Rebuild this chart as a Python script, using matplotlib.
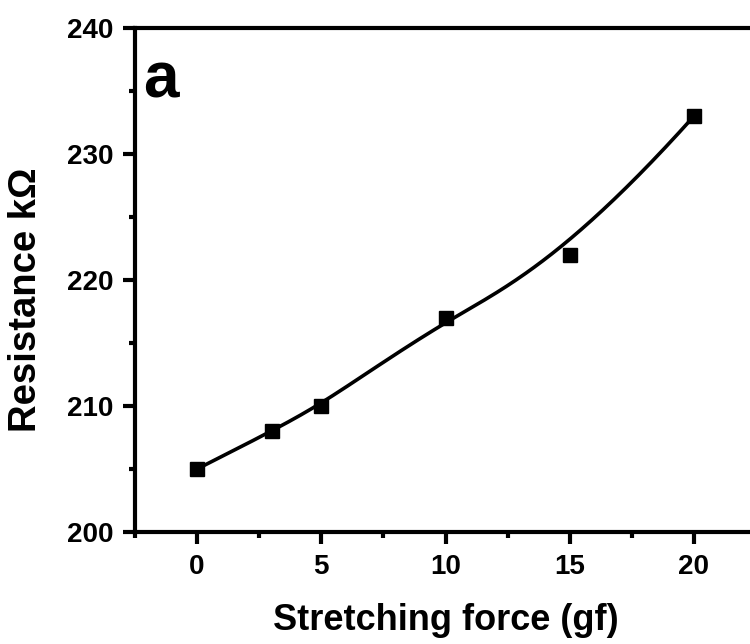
import numpy as np
import matplotlib
matplotlib.use("Agg")
import matplotlib.pyplot as plt
from matplotlib.ticker import MultipleLocator

force = [0, 3, 5, 10, 15, 20]
resistance = [205, 208, 210, 217, 222, 233]

plt.rcParams['font.family'] = ['Liberation Sans', 'DejaVu Sans']
plt.rcParams['font.weight'] = 'bold'


def bspline(px, py, degree=3, n=300):
    # clamped uniform B-spline using data points as control points
    ctrl = np.column_stack([px, py]).astype(float)
    m = len(ctrl)
    k = degree
    inner = np.arange(1, m - k)
    knots = np.concatenate([np.zeros(k + 1), inner, np.full(k + 1, m - k)]).astype(float)
    ts = np.linspace(0, m - k, n)
    out = []
    for t in ts:
        N = np.zeros(len(knots) - 1)
        for i in range(len(knots) - 1):
            if knots[i] <= t < knots[i + 1]:
                N[i] = 1.0
        if t >= knots[-1]:
            N[m - 1] = 1.0
        for d in range(1, k + 1):
            Nn = np.zeros(len(knots) - 1 - d)
            for i in range(len(Nn)):
                a = 0.0
                if knots[i + d] != knots[i]:
                    a = (t - knots[i]) / (knots[i + d] - knots[i]) * N[i]
                b = 0.0
                if knots[i + d + 1] != knots[i + 1]:
                    b = (knots[i + d + 1] - t) / (knots[i + d + 1] - knots[i + 1]) * N[i + 1]
                Nn[i] = a + b
            N = Nn
        out.append(N[:m] @ ctrl)
    out = np.array(out)
    return out[:, 0], out[:, 1]


fig = plt.figure(figsize=(7.5, 6.44), dpi=100)
ax = fig.add_axes([135/750, 1-532/644, (756-135)/750, (532-28)/644])

bx, by = bspline(force, resistance)
ax.plot(bx, by, color='black', lw=2.6, zorder=2, solid_capstyle='butt')
ax.plot(force, resistance, 's', color='black', ms=9.5, zorder=3)

ax.set_xlim(-2.5, 22.5)
ax.set_ylim(200, 240)
ax.xaxis.set_major_locator(MultipleLocator(5))
ax.xaxis.set_minor_locator(MultipleLocator(2.5))
ax.yaxis.set_major_locator(MultipleLocator(10))
ax.yaxis.set_minor_locator(MultipleLocator(5))
for s in ax.spines.values():
    s.set_linewidth(3)
ax.tick_params(which='major', direction='out', length=8.5, width=3, labelsize=20, pad=7)
ax.tick_params(which='minor', direction='out', length=4.5, width=3)
for lab in ax.get_xticklabels() + ax.get_yticklabels():
    lab.set_fontweight('bold')

ax.set_xlabel('Stretching force (gf)', fontsize=26, fontweight='bold', labelpad=17)
ax.set_ylabel('Resistance kΩ', fontsize=27.5, fontweight='bold')
ax.yaxis.set_label_coords(-0.146, 0.46)
fig.text(143/750, 1-98/644, 'a', fontsize=46, fontweight='bold', va='baseline', ha='left')

fig.savefig('out.png', dpi=100)
